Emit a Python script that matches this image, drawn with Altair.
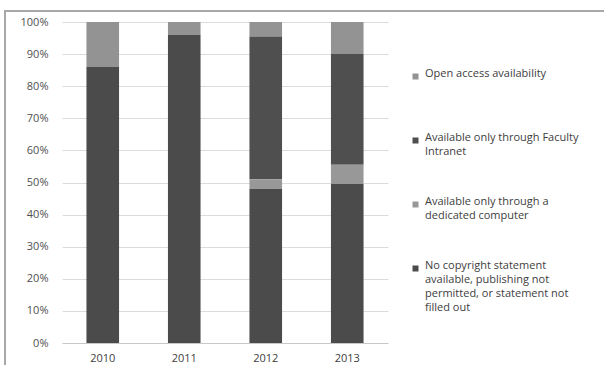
import altair as alt
import pandas as pd

years = ["2010", "2011", "2012", "2013"]
series = [
    "Open access availability",
    "Available only through Faculty Intranet",
    "Available only through a dedicated computer",
    "No copyright statement available, publishing not permitted, or statement not filled out",
]
stack_pos = [3, 2, 1, 0]
open_access = [14, 4, 4.5, 10]
faculty = [0, 0, 44.5, 34.5]
dedicated = [0, 0, 3, 6]
no_copyright = [86, 96, 48, 49.5]
colors = ["#939393", "#4f4f4f", "#989898", "#4b4b4b"]

values = [open_access, faculty, dedicated, no_copyright]
rows = []
for s, pos, vals in zip(series, stack_pos, values):
    for y, v in zip(years, vals):
        rows.append({"year": y, "series": s, "value": v, "pos": pos})
df = pd.DataFrame(rows)

label_expr = (
    "datum.label == 'Available only through Faculty Intranet' ? ['Available only through Faculty', 'Intranet'] : "
    "datum.label == 'Available only through a dedicated computer' ? ['Available only through a', 'dedicated computer'] : "
    "datum.label == 'Open access availability' ? 'Open access availability' : "
    "['No copyright statement', 'available, publishing not', 'permitted, or statement not', 'filled out']"
)

bars = alt.Chart(df).mark_bar().encode(
    x=alt.X("year:N", title=None,
            scale=alt.Scale(paddingInner=0.6, paddingOuter=0.3),
            axis=alt.Axis(labelAngle=0, ticks=False, domain=True, domainColor="#c8c8c8",
                          labelPadding=9, labelFontSize=11, labelColor="#404040")),
    y=alt.Y("value:Q", stack="normalize", title=None,
            scale=alt.Scale(domain=[0, 1]),
            axis=alt.Axis(format=".0%", values=[i / 10 for i in range(11)], ticks=False,
                          domain=False, labelPadding=14, gridColor="#dcdcdc",
                          labelFontSize=11, labelColor="#505050")),
    color=alt.Color("series:N", scale=alt.Scale(domain=series, range=colors),
                    legend=alt.Legend(title=None, orient="none", legendX=348, legendY=49,
                                      gridAlign="all", rowPadding=10, labelExpr=label_expr,
                                      symbolType="square", symbolSize=36, symbolStrokeWidth=0,
                                      labelFontSize=11, labelColor="#404040", labelLimit=300,
                                      labelBaseline="alphabetic", padding=0)),
    order=alt.Order("pos:Q"),
)

frame = alt.Chart(pd.DataFrame({"k": [0]})).mark_rect(
    fill=None, stroke="#a8a8a8", strokeWidth=2
).encode(
    x=alt.value(-57), x2=alt.value(600), y=alt.value(-11), y2=alt.value(400)
)

chart = alt.layer(frame, bars).properties(
    width=326, height=321,
    padding={"left": 62, "top": 22, "right": 216, "bottom": 22},
    autosize=alt.AutoSizeParams(type="none"),
).configure(
    font="Open Sans",
    style={"guide-label": {"lineHeight": 14}},
).configure_view(stroke=None)

chart.save("out.html", embed_options={"renderer": "svg", "actions": False})
